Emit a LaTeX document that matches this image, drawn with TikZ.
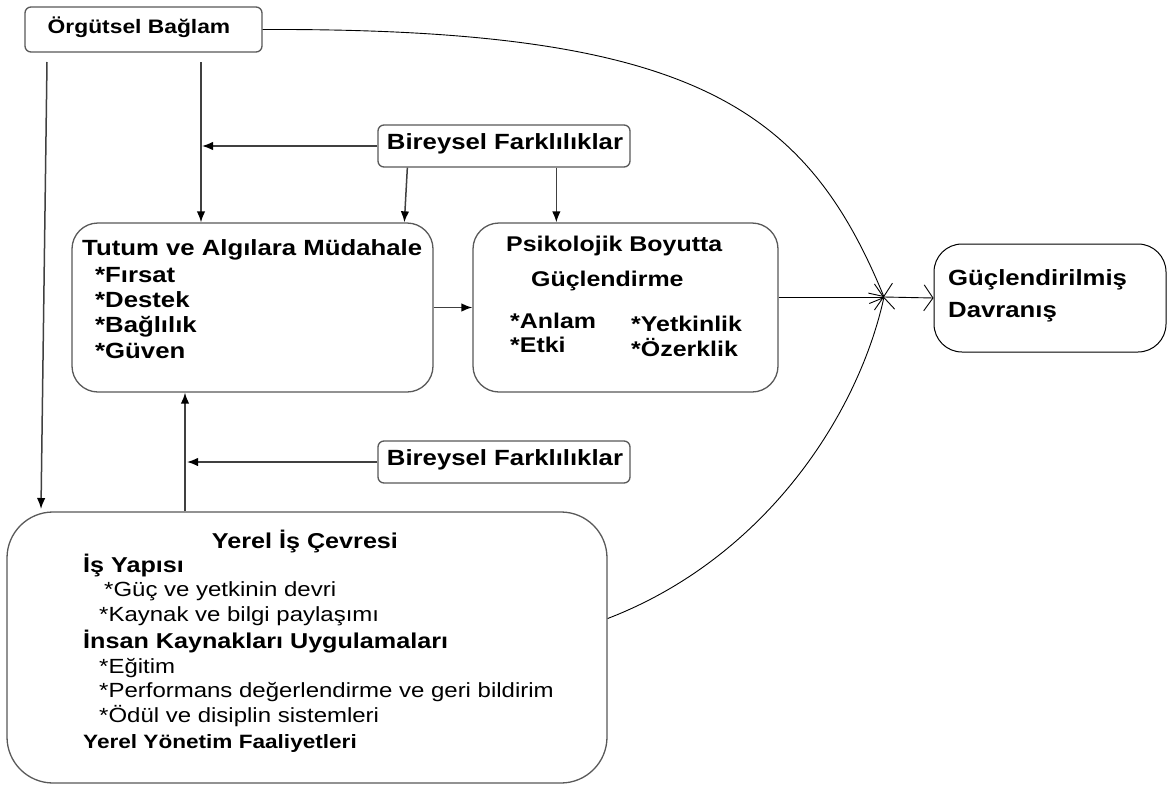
\documentclass[tikz,border=0pt]{standalone}
\usepackage{fontspec}
\setmainfont{Liberation Sans}[FakeStretch=1.17]
\usetikzlibrary{arrows.meta,calc}
\begin{document}
\begin{tikzpicture}[x=1pt,y=-1pt,
  box/.style={draw=black!65, line width=1.3pt, rounded corners=#1, inner sep=0},
  txt/.style={inner sep=0, text height=0.72em, text depth=0pt, anchor=west, text=black},
  bb/.style={font=\fontsize{#1}{#1}\selectfont\bfseries},
  rr/.style={font=\fontsize{#1}{#1}\selectfont},
  arr/.style={draw=black!75, line width=1.5pt, -{Latex[length=11pt,width=8.5pt,color=black]}},
  barb/.style={draw=black, line width=0.9pt, -{Straight Barb[length=9pt,width=26pt,line width=0.9pt]}}]
\useasboundingbox[fill=white] (0,0) rectangle (1169,787);

% boxes
\node[box=6, minimum width=237, minimum height=45] (org) at (143.5,29.5) {};
\node[box=6, minimum width=252, minimum height=42] (bf1) at (504,146) {};
\node[box=26, minimum width=361, minimum height=169] (tut) at (252.5,307.5) {};
\node[box=26, minimum width=305, minimum height=169] (psy) at (625.5,307.5) {};
\node[box=28, draw=black, line width=1pt, minimum width=232, minimum height=108] (goal) at (1050,298) {};
\node[box=6, minimum width=252, minimum height=42] (bf2) at (504,462) {};
\node[box=46, minimum width=600, minimum height=271] (yer) at (307,647.5) {};

% labels
\node[txt, bb=19.5, anchor=center] (orgT) at (139,29.5) {Örgütsel Bağlam};
\node[txt, bb=22, anchor=center] (bf1T) at (505,146) {Bireysel Farklılıklar};
\node[txt, bb=22, anchor=center] (bf2T) at (505,462) {Bireysel Farklılıklar};

\node[txt, bb=22] (t0) at (82,252) {Tutum ve Algılara Müdahale};
\node[txt, bb=22] (t1) at (95,279) {*Fırsat};
\node[txt, bb=22] (t2) at (95,304) {*Destek};
\node[txt, bb=22] (t3) at (95,329) {*Bağlılık};
\node[txt, bb=22] (t4) at (95,355) {*Güven};

\node[txt, bb=21.3] (p0) at (506,248) {Psikolojik Boyutta};
\node[txt, bb=21.3] (p1) at (531,283) {Güçlendirme};
\node[txt, bb=21.3] (p2) at (510,325) {*Anlam};
\node[txt, bb=21.3] (p3) at (510,349) {*Etki};
\node[txt, bb=21.3] (p4) at (631,328) {*Yetkinlik};
\node[txt, bb=21.3] (p5) at (631,353) {*Özerklik};

\node[txt, bb=22] (g0) at (948,282) {Güçlendirilmiş};
\node[txt, bb=22] (g1) at (948,314) {Davranış};

\node[txt, bb=21.5, anchor=center] (y0) at (305,545) {Yerel İş Çevresi};
\node[txt, bb=21.5] (y1) at (83,569) {İş Yapısı};
\node[txt, rr=20.5] (y2) at (104,593) {*Güç ve yetkinin devri};
\node[txt, rr=20.5] (y3) at (99,618) {*Kaynak ve bilgi paylaşımı};
\node[txt, bb=21.5] (y4) at (83,645) {İnsan Kaynakları Uygulamaları};
\node[txt, rr=20.5] (y5) at (99,670) {*Eğitim};
\node[txt, rr=20.5] (y6) at (99,694) {*Performans değerlendirme ve geri bildirim};
\node[txt, rr=20.5] (y7) at (99,719) {*Ödül ve disiplin sistemleri};
\node[txt, bb=19.3] (y8) at (83,745) {Yerel Yönetim Faaliyetleri};

% free connector ends
\coordinate (oa) at (47,62);
\coordinate (oaEnd) at (41,509);
\coordinate (ob) at (201,62);
\coordinate (cv) at (884,297);
\coordinate (up) at (185,0);

% organisational context
\draw[arr] (oa) -- (oaEnd);
\draw[arr] (ob) -- (tut.north -| ob);
\draw[barb] (org.east) .. controls (690,28) and (805,105) .. (cv);

% individual differences (upper)
\draw[arr] (bf1.west) -- ([xshift=1pt]bf1.west -| ob);
\draw[arr] ([xshift=30pt]bf1.south west) -- ([xshift=27pt]tut.north -| bf1.south west);
\draw[arr] ([xshift=179pt]bf1.south west) -- ([xshift=179pt]psy.north -| bf1.south west);

% attitudes to psychological empowerment
\draw[arr] (tut.east) -- (psy.west);
\draw[barb] (psy.east |- cv) -- (cv);

% local work environment
\draw[arr] (yer.north -| up) -- (tut.south -| up);
\draw[arr] (bf2.west) -- ([xshift=2pt]bf2.west -| up);
\draw[barb] ([yshift=29pt]yer.east) .. controls (765,558) and (858,415) .. (cv);

% outcome
\draw[barb] (cv) -- (goal.west);
\end{tikzpicture}
\end{document}
